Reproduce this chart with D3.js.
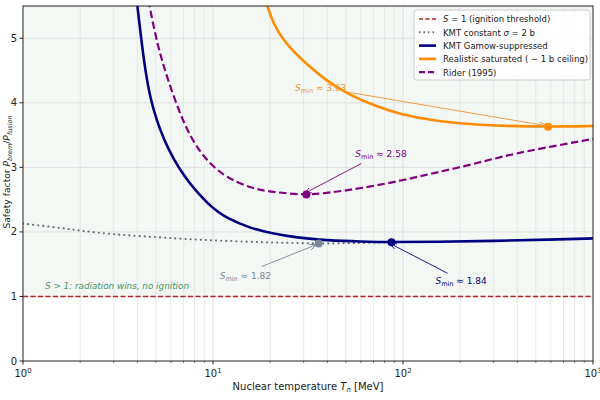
<!DOCTYPE html>
<html><head><meta charset="utf-8">
<script src="https://cdn.jsdelivr.net/npm/d3@7"></script>
<style>body{margin:0;background:#fff}svg{font-family:"DejaVu Sans",sans-serif}</style>
</head><body><svg id="c" width="600" height="400"></svg>
<script>
// ---- data ----
const kmtConstT = [1, 1.5, 2, 3, 5, 8, 12, 18, 25, 36, 50, 65, 80];
const kmtConstS = [2.13, 2.07, 2.02, 1.96, 1.92, 1.88, 1.86, 1.84, 1.83, 1.82, 1.823, 1.83, 1.838];
const gamowT = [3.75, 4.0, 4.3, 4.66, 5.47, 6.98, 9.64, 12, 15.7, 20, 27.6, 40, 60, 87, 150, 300, 600, 1000];
const gamowS = [6.2, 5.5, 4.7, 4.04, 3.42, 2.85, 2.39, 2.2, 2.06, 1.98, 1.91, 1.87, 1.85, 1.84, 1.845, 1.86, 1.88, 1.90];
const satT = [17.5, 19.2, 21, 23.4, 27, 31.1, 38.8, 50.6, 75.7, 96, 139, 216, 350, 580, 1000];
const satS = [5.95, 5.5, 5.2, 4.98, 4.77, 4.60, 4.36, 4.14, 3.92, 3.83, 3.73, 3.67, 3.64, 3.63, 3.64];
const riderT = [4.3, 4.62, 5.1, 5.71, 6.98, 8.55, 11.3, 15.7, 20, 27.6, 31, 40, 64.4, 100, 144, 220, 324, 500, 1000];
const riderS = [6.1, 5.5, 4.9, 4.40, 3.68, 3.21, 2.86, 2.68, 2.62, 2.585, 2.58, 2.60, 2.69, 2.80, 2.91, 3.03, 3.16, 3.28, 3.44];
const minNames = ["kmtConst", "gamow", "sat", "rider"];
const minT = [36, 87, 580, 31];
const minS = [1.82, 1.84, 3.63, 2.58];
const minLabels = ["1.82", "1.84", "3.63", "2.58"];
const xTicks = [1, 10, 100, 1000];
const xTickExp = ["0", "1", "2", "3"];
const yTicks = [0, 1, 2, 3, 4, 5];

// ---- layout ----
const svg = d3.select("#c");
const L = 23, R = 593, T = 6, B = 361;
const x = d3.scaleLog().domain([1, 1000]).range([L, R]);
const y = d3.scaleLinear().domain([0, 5.5]).range([B, T]);

svg.append("defs").append("clipPath").attr("id", "clip")
  .append("rect").attr("x", L).attr("y", T).attr("width", R - L).attr("height", B - T);

// shaded region S>1
svg.append("rect").attr("x", L).attr("y", y(5.5)).attr("width", R - L).attr("height", y(1) - y(5.5))
  .attr("fill", "#2e8b57").attr("opacity", 0.06);

// grid
const minorTicks = [];
for (let d = 1; d < 1000; d *= 10) for (let k = 1; k <= 9; k++) if (d * k > 1 && d * k < 1000) minorTicks.push(d * k);
const grid = svg.append("g");
grid.selectAll("line.v").data(minorTicks).join("line")
  .attr("x1", d => x(d)).attr("x2", d => x(d)).attr("y1", T).attr("y2", B)
  .attr("stroke", d => (Math.log10(d) % 1 === 0) ? "#d8d8d8" : "#e4e4e4").attr("stroke-width", 0.8);
grid.selectAll("line.h").data(yTicks.filter(v => v > 0)).join("line")
  .attr("x1", L).attr("x2", R).attr("y1", d => y(d)).attr("y2", d => y(d))
  .attr("stroke", "#dcdcdc").attr("stroke-width", 0.8);

// S=1 line
svg.append("line").attr("x1", L).attr("x2", R).attr("y1", y(1)).attr("y2", y(1))
  .attr("stroke", "#b22222").attr("stroke-width", 1.4).attr("stroke-dasharray", "5,2.5");

const line = d3.line().x(d => x(d[0])).y(d => y(d[1])).curve(d3.curveBasis);
const plot = svg.append("g").attr("clip-path", "url(#clip)");
const series = {
  kmtConst: {T: kmtConstT, S: kmtConstS, color: "#6e6e6e", w: 2.1, dash: "0.1,5", cap: "round", mcol: "#778899", tcol: "#778899"},
  gamow: {T: gamowT, S: gamowS, color: "#000080", w: 2.6, dash: null, mcol: "#000080", tcol: "#000080"},
  sat: {T: satT, S: satS, color: "#ff8c00", w: 2.6, dash: null, mcol: "#ff8c00", tcol: "#f0932b"},
  rider: {T: riderT, S: riderS, color: "#800080", w: 2.2, dash: "7.5,3.5", mcol: "#800080", tcol: "#800080"}
};
["kmtConst", "rider", "gamow", "sat"].forEach(k => {
  const s = series[k];
  plot.append("path").datum(s.T.map((t, i) => [t, s.S[i]]))
    .attr("d", line).attr("fill", "none").attr("stroke", s.color).attr("stroke-width", s.w)
    .attr("stroke-dasharray", s.dash).attr("stroke-linecap", s.cap || "butt");
});

// arrow markers
const defs = svg.select("defs");
minNames.forEach(k => {
  defs.append("marker").attr("id", "ar_" + k).attr("viewBox", "0 -5 10 10").attr("refX", 10).attr("refY", 0)
    .attr("markerWidth", 7).attr("markerHeight", 7).attr("orient", "auto").attr("markerUnits", "userSpaceOnUse")
    .append("path").attr("d", "M0,-4L10,0L0,4").attr("fill", "none").attr("stroke", series[k].tcol).attr("stroke-width", 1.2);
});

// annotations: text positions (pixel offsets relative to min point)
const annOff = {kmtConst: [-99, 35], gamow: [44, 42], sat: [-253, -36], rider: [49, -37]};
const annStart = {kmtConst: [-57, 23], gamow: [56, 31], sat: [-203, -35], rider: [55, -31]};
minNames.forEach((k, i) => {
  const px = x(minT[i]), py = y(minS[i]);
  const s = series[k];
  const st = annStart[k];
  svg.append("line").attr("x1", px + st[0]).attr("y1", py + st[1]).attr("x2", px - 2).attr("y2", py + (st[1] > 0 ? 1 : -1))
    .attr("stroke", s.tcol).attr("stroke-width", 0.9).attr("marker-end", "url(#ar_" + k + ")");
  svg.append("circle").attr("cx", px).attr("cy", py).attr("r", 4).attr("fill", s.mcol);
  const o = annOff[k];
  const t = svg.append("text").attr("x", px + o[0]).attr("y", py + o[1]).attr("font-size", 9).attr("fill", s.tcol);
  t.append("tspan").attr("font-style", "italic").text("S");
  t.append("tspan").attr("font-size", 6.5).attr("dy", 2).text("min");
  t.append("tspan").attr("dy", -2).text(" ≈ " + minLabels[i]);
});

// green region text
svg.append("text").attr("x", 45).attr("y", 289).attr("font-size", 8.8).attr("font-style", "italic")
  .attr("fill", "#2e8b57").attr("opacity", 0.9).text("S > 1: radiation wins, no ignition");

// frame
svg.append("rect").attr("x", L).attr("y", T).attr("width", R - L).attr("height", B - T)
  .attr("fill", "none").attr("stroke", "#222").attr("stroke-width", 1);

// x axis
const xa = svg.append("g");
xa.selectAll("line.maj").data(xTicks).join("line").attr("x1", d => x(d)).attr("x2", d => x(d))
  .attr("y1", B).attr("y2", B + 3.5).attr("stroke", "#222");
xa.selectAll("line.min").data(minorTicks.filter(d => Math.log10(d) % 1 !== 0)).join("line").attr("x1", d => x(d)).attr("x2", d => x(d))
  .attr("y1", B).attr("y2", B + 2).attr("stroke", "#222").attr("stroke-width", 0.6);
xTicks.forEach((d, i) => {
  const t = xa.append("text").attr("x", x(d)).attr("y", B + 16).attr("text-anchor", "middle").attr("font-size", 10).attr("fill", "#222");
  t.append("tspan").text("10");
  t.append("tspan").attr("dy", -4).attr("font-size", 7).text(xTickExp[i]);
});
const xl = svg.append("text").attr("x", 308).attr("y", 390).attr("text-anchor", "middle").attr("font-size", 10).attr("fill", "#222");
xl.append("tspan").text("Nuclear temperature  ");
xl.append("tspan").attr("font-style", "italic").text("T");
xl.append("tspan").attr("font-style", "italic").attr("font-size", 7).attr("dy", 2).text("n");
xl.append("tspan").attr("dy", -2).text("  [MeV]");

// y axis
const ya = svg.append("g");
ya.selectAll("line").data(yTicks).join("line").attr("x1", L - 3.5).attr("x2", L).attr("y1", d => y(d)).attr("y2", d => y(d)).attr("stroke", "#222");
ya.selectAll("text").data(yTicks).join("text").attr("x", L - 6).attr("y", d => y(d) + 3.5)
  .attr("text-anchor", "end").attr("font-size", 10).attr("fill", "#222").text(d => d);
const yl = svg.append("text").attr("transform", "translate(9.5,172) rotate(-90)").attr("text-anchor", "middle")
  .attr("font-size", 9.2).attr("fill", "#222");
yl.append("tspan").text("Safety factor  ");
yl.append("tspan").attr("font-style", "italic").text("P");
yl.append("tspan").attr("font-style", "italic").attr("font-size", 6.5).attr("dy", 2).text("brem");
yl.append("tspan").attr("dy", -2).text("/");
yl.append("tspan").attr("font-style", "italic").text("P");
yl.append("tspan").attr("font-style", "italic").attr("font-size", 6.5).attr("dy", 2).text("fusion");

// legend
const leg = svg.append("g");
leg.append("rect").attr("x", 414).attr("y", 10).attr("width", 176).attr("height", 70).attr("rx", 2.5)
  .attr("fill", "#fff").attr("fill-opacity", 0.85).attr("stroke", "#cccccc");
const legItems = [
  {color: "#b22222", w: 1.4, dash: "4,2.5", parts: [["S", true], [" = 1  (ignition threshold)", false]]},
  {color: "#6e6e6e", w: 2, dash: "1.5,3", parts: [["KMT constant ", false], ["σ", true], [" = 2 b", false]]},
  {color: "#000080", w: 2.6, dash: null, parts: [["KMT Gamow-suppressed", false]]},
  {color: "#ff8c00", w: 2.6, dash: null, parts: [["Realistic saturated ( ∼ 1 b ceiling)", false]]},
  {color: "#800080", w: 2.2, dash: "6,3", parts: [["Rider (1995)", false]]}
];
legItems.forEach((it, i) => {
  const yy = 19 + i * 13.3;
  leg.append("line").attr("x1", 419).attr("x2", 436).attr("y1", yy).attr("y2", yy)
    .attr("stroke", it.color).attr("stroke-width", it.w).attr("stroke-dasharray", it.dash);
  const t = leg.append("text").attr("x", 443).attr("y", yy + 3.3).attr("font-size", 8.5).attr("fill", "#222");
  it.parts.forEach(p => t.append("tspan").attr("font-style", p[1] ? "italic" : null).text(p[0]));
});
</script></body></html>
